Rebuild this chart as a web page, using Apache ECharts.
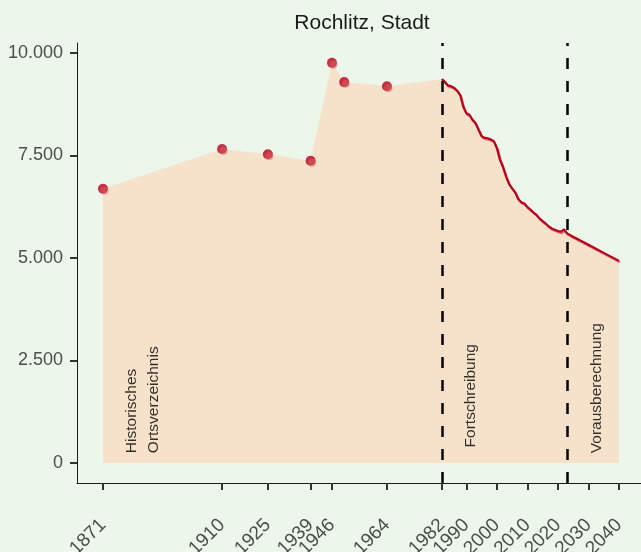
<!DOCTYPE html>
<html>
<head>
<meta charset="utf-8">
<script src="https://cdn.jsdelivr.net/npm/echarts@6/dist/echarts.min.js"></script>
<style>
  html, body { margin: 0; padding: 0; background: #ecf6ea; }
  #chart { width: 641px; height: 552px; }
</style>
</head>
<body>
<div id="chart"></div>
<script>
// Historisches Ortsverzeichnis (Punkte)
const histYears = [1871, 1910, 1925, 1939, 1946, 1950, 1964]
const histValues = [6690, 7660, 7530, 7370, 9760, 9290, 9190]

// Fortschreibung (jährlich)
const fortYears = [
  1982, 1983, 1984, 1985, 1986, 1987, 1988, 1989, 1990, 1991,
  1992, 1993, 1994, 1995, 1996, 1997, 1998, 1999, 2000, 2001,
  2002, 2003, 2004, 2005, 2006, 2007, 2008, 2009, 2010, 2011,
  2012, 2013, 2014, 2015, 2016, 2017, 2018, 2019, 2020, 2021, 2022,
]
const fortValues = [
  9366, 9290, 9210, 9190, 9150, 9080, 8975, 8690, 8530, 8495,
  8370, 8290, 8130, 7970, 7930, 7920, 7890, 7850, 7680, 7400,
  7220, 6990, 6800, 6700, 6600, 6440, 6360, 6330, 6240, 6180,
  6110, 6050, 5960, 5900, 5840, 5770, 5720, 5690, 5660, 5640, 5700,
]

// Vorausberechnung
const projYears = [2023, 2025, 2030, 2035, 2040]
const projValues = [5600, 5520, 5325, 5125, 4930]

// Abschnittsgrenzen und Beschriftungen
const breakYears = [1982, 2023]
const sectionLabels = ['Historisches\nOrtsverzeichnis', 'Fortschreibung', 'Vorausberechnung']
const sectionLabelX = [1884, 1991.3, 2032.6]
const sectionLabelY = [240, 380, 240]

const xTicks = [1871, 1910, 1925, 1939, 1946, 1964, 1982, 1990, 2000, 2010, 2020, 2030, 2040]
const yTicks = [0, 2500, 5000, 7500, 10000]

const fmt = v => String(v).replace(/\B(?=(\d{3})+(?!\d))/g, '.')
const pairs = (xs, ys) => xs.map((x, i) => [x, ys[i]])

const allData = [
  ...pairs(histYears, histValues),
  ...pairs(fortYears, fortValues),
  ...pairs(projYears, projValues),
]
const lineData = [...pairs(fortYears, fortValues), ...pairs(projYears, projValues)]

const chart = echarts.init(document.getElementById('chart'), null, { renderer: 'canvas' })

const FONT = 'Liberation Sans, Arial, sans-serif'

chart.setOption({
  backgroundColor: '#ecf6ea',
  animation: false,
  title: {
    text: 'Rochlitz, Stadt',
    left: 357,
    textAlign: 'center',
    top: 8,
    textStyle: { color: '#1a1a1a', fontSize: 21, fontWeight: 'normal', fontFamily: FONT },
  },
  grid: { left: 77, right: 0, top: 43, bottom: 69, containLabel: false, outerBoundsMode: 'none' },
  xAxis: {
    type: 'value',
    min: 1862.5,
    max: 2047.2,
    splitLine: { show: false },
    axisLine: { show: true, onZero: false, lineStyle: { color: '#1a1a1a', width: 1 } },
    axisTick: { show: true, customValues: xTicks, length: 7, lineStyle: { color: '#333', width: 2 } },
    axisLabel: {
      customValues: xTicks,
      rotate: 45,
      margin: 39,
      color: '#4d4d4d',
      fontSize: 19,
      fontFamily: FONT,
      formatter: v => String(v),
    },
  },
  yAxis: {
    type: 'value',
    min: -488,
    max: 10244,
    splitLine: { show: false },
    axisLine: { show: true, onZero: false, lineStyle: { color: '#1a1a1a', width: 1 } },
    axisTick: { show: true, customValues: yTicks, length: 7, lineStyle: { color: '#333', width: 2 } },
    axisLabel: {
      customValues: yTicks,
      margin: 14,
      color: '#4d4d4d',
      fontSize: 18,
      fontFamily: FONT,
      formatter: v => fmt(v),
    },
  },
  series: [
    {
      name: 'Fläche',
      type: 'line',
      data: allData,
      showSymbol: false,
      lineStyle: { width: 0 },
      areaStyle: { color: '#f6e2cb', opacity: 1 },
      z: 1,
      silent: true,
      markLine: {
        silent: true,
        symbol: 'none',
        label: { show: false },
        lineStyle: { color: '#000', width: 2.5, type: [11, 12] },
        data: breakYears.map(y => ({ xAxis: y })),
      },
    },
    {
      name: 'Bevölkerung',
      type: 'line',
      data: lineData,
      showSymbol: false,
      lineStyle: {
        color: '#b5001e', width: 2.2,
        shadowColor: 'rgba(220,95,100,0.85)', shadowBlur: 0, shadowOffsetX: 1, shadowOffsetY: 1.5,
      },
      z: 3,
    },
    {
      name: 'Historisch',
      type: 'scatter',
      data: pairs(histYears, histValues),
      symbolSize: 10,
      itemStyle: { color: '#b8001c' },
      z: 4,
    },
    {
      name: 'Historisch2',
      type: 'scatter',
      data: pairs(histYears, histValues),
      symbolSize: 8,
      symbolOffset: [1.5, 2],
      itemStyle: { color: 'rgba(222,100,100,0.6)' },
      z: 5,
    },
    {
      name: 'Abschnitte',
      type: 'scatter',
      data: sectionLabels.map((t, i) => ({ name: t, value: [sectionLabelX[i], sectionLabelY[i]] })),
      symbolSize: 0,
      silent: true,
      z: 6,
      label: {
        show: true,
        position: [0, 0],
        rotate: 90,
        align: 'left',
        verticalAlign: 'middle',
        formatter: p => p.name,
        color: '#000',
        fontSize: 15.5,
        lineHeight: 22,
        fontFamily: FONT,
      },
    },
  ],
})
</script>
</body>
</html>
